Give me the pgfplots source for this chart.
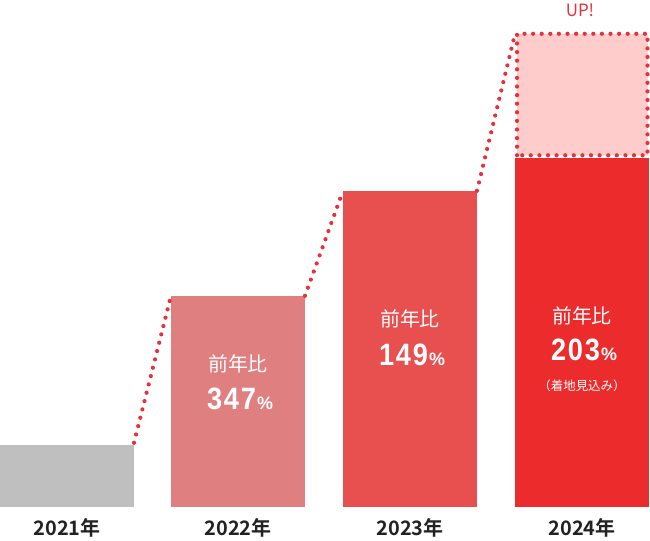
\documentclass[border=0pt]{standalone}
\usepackage{fontspec}
\usepackage{pgfplots}
\pgfplotsset{compat=1.18}
\setmainfont{Noto Sans CJK JP}
\newfontfamily\jpbold{Noto Sans CJK JP Bold}
\newfontfamily\numfont[FakeStretch=0.88, LetterSpace=6]{Liberation Sans Bold}
\newfontfamily\pctfont{Liberation Sans Bold}
\definecolor{c2021}{HTML}{BFBFBF}
\definecolor{c2022}{HTML}{DF7F7F}
\definecolor{c2023}{HTML}{E85050}
\definecolor{c2024}{HTML}{EC2C2C}
\definecolor{cup}{HTML}{FFCCCC}
\definecolor{cdot}{HTML}{E8303A}
\definecolor{ctext}{HTML}{222222}
\tikzset{dots/.style={draw=cdot, line width=4.2bp, line cap=round, dash pattern=on 0pt off 8.6bp}}
\newcommand{\ratio}[1]{{\numfont\fontsize{31}{31}\selectfont #1}{\pctfont\fontsize{18}{18}\selectfont\hspace{1bp}\%}}
\begin{document}
\begin{tikzpicture}
\begin{axis}[
    scale only axis,
    width=650bp, height=506bp,
    xmin=0, xmax=650, ymin=0, ymax=506,
    axis line style={draw=none},
    xtick=\empty, ytick=\empty,
    clip=false,
]
% invisible frame: fixes the page to 650 x 540
\path (axis cs:0,-34) rectangle (axis cs:650,506);

% bars
\addplot[ybar, bar width=134, bar shift=0pt, fill=c2021, draw=none] coordinates {(67,62)};
\addplot[ybar, bar width=134, bar shift=0pt, fill=c2022, draw=none] coordinates {(238,211)};
\addplot[ybar, bar width=134, bar shift=0pt, fill=c2023, draw=none] coordinates {(410,316)};
\addplot[ybar, bar width=134, bar shift=0pt, fill=c2024, draw=none] coordinates {(582,349)};

% projected upside (dotted box)
\addplot[dots, fill=cup] coordinates {(517,351.5) (517,473) (647.5,473) (647.5,351.5) (517,351.5)};

% dotted connectors
\addplot[dots] coordinates {(134,64) (171,211)};
\addplot[dots] coordinates {(305,211) (343,316)};
\addplot[dots] coordinates {(477,316) (515,473)};

% year labels
\node[ctext, font=\jpbold\fontsize{20}{20}\selectfont] at (axis cs:67,-21) {2021年};
\node[ctext, font=\jpbold\fontsize{20}{20}\selectfont] at (axis cs:238,-21) {2022年};
\node[ctext, font=\jpbold\fontsize{20}{20}\selectfont] at (axis cs:410,-21) {2023年};
\node[ctext, font=\jpbold\fontsize{20}{20}\selectfont] at (axis cs:582,-21) {2024年};

% in-bar texts
\node[white, font=\fontsize{20}{20}\selectfont] at (axis cs:238,143) {前年比};
\node[white, anchor=base, inner sep=0pt] at (axis cs:240,97) {\ratio{347}};
\node[white, font=\fontsize{20}{20}\selectfont] at (axis cs:410,188) {前年比};
\node[white, anchor=base, inner sep=0pt] at (axis cs:412,141) {\ratio{149}};
\node[white, font=\fontsize{20}{20}\selectfont] at (axis cs:582,191) {前年比};
\node[white, anchor=base, inner sep=0pt] at (axis cs:584,146) {\ratio{203}};
\node[white, font=\fontsize{12.5}{12.5}\selectfont] at (axis cs:582,121) {（着地見込み）};

\node[cdot, font=\fontsize{17}{17}\selectfont] at (axis cs:580,497) {UP!};
\end{axis}
\end{tikzpicture}
\end{document}
